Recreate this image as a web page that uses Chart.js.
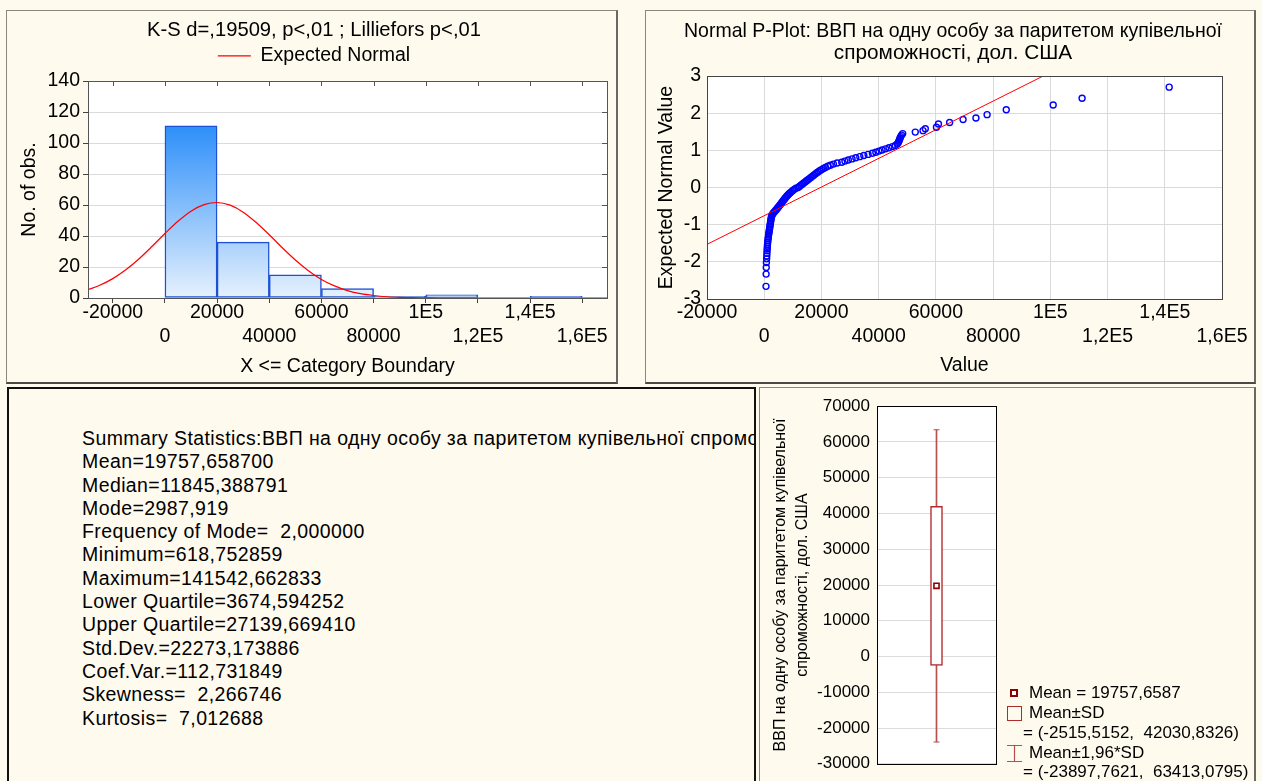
<!DOCTYPE html>
<html lang="uk">
<head>
<meta charset="utf-8">
<title>ВВП на одну особу</title>
<script src="https://cdn.jsdelivr.net/npm/chart.js@4.4.1/dist/chart.umd.min.js"></script>
<style>
  html, body { margin: 0; padding: 0; }
  body {
    position: relative; width: 1262px; height: 781px; overflow: hidden;
    background: #fffaee; color: #000;
    font-family: "Liberation Sans", Arial, sans-serif;
  }
  .panel { position: absolute; box-sizing: border-box; }
  #p1 { left: 6px; top: 10px; width: 612px; height: 374px; border: 1px solid #8a887e; border-right: 2px solid #6a6860; border-bottom: 2px solid #4a4944; }
  #p2 { left: 645px; top: 10px; width: 611px; height: 374px; border: 1px solid #8a887e; border-right: 2px solid #6a6860; border-bottom: 2px solid #4a4944; }
  #p3 { left: 7px; top: 387px; width: 749px; height: 420px; border: 2px solid #111; overflow: hidden; }
  #p4 { left: 759px; top: 387px; width: 497px; height: 420px; border: 1px solid #8a887e; border-right: 2px solid #6a6860; }
  canvas { position: absolute; }
  #c1 { left: 7px; top: 11px; }
  #c2 { left: 646px; top: 11px; }
  #c4 { left: 760px; top: 389px; }
  #stats { position: absolute; left: 73px; top: 38px; font-size: 19.5px; letter-spacing: 0.4px; line-height: 23.3px; white-space: pre; }
  .lg { position: absolute; font-size: 17px; line-height: 20px; white-space: pre; }
  .ico { position: absolute; box-sizing: border-box; }
</style>
</head>
<body>
<div class="panel" id="p1"></div>
<div class="panel" id="p2"></div>
<div class="panel" id="p3"><div id="stats"></div></div>
<div class="panel" id="p4"></div>

<canvas id="c1" width="609" height="371"></canvas>
<canvas id="c2" width="607" height="371"></canvas>
<canvas id="c4" width="493" height="392"></canvas>

<div class="ico" style="left:1010px; top:689px; width:8px; height:8px; border:2px solid #8b0000; background:#fff;"></div>
<div class="ico" style="left:1007px; top:706px; width:15px; height:15px; border:1.5px solid #b22a2a;"></div>
<svg class="ico" style="left:1007px; top:745px;" width="15" height="17">
  <path d="M0 0.5H15M7.5 0.5V16.5M0 16.5H15" stroke="#b5504f" stroke-width="1.2" fill="none"/>
</svg>
<div class="lg" id="lgMean" style="left:1029px; top:683px;"></div>
<div class="lg" id="lgSd" style="left:1029px; top:703px;"></div>
<div class="lg" id="lgSdVal" style="left:1023px; top:723px;"></div>
<div class="lg" id="lgCi" style="left:1029px; top:743px;"></div>
<div class="lg" id="lgCiVal" style="left:1023px; top:762px;"></div>

<script>
// variable name, split the way the titles wrap
const VAR_LINES = ['ВВП на одну особу за паритетом купівельної', 'спроможності, дол. США'];

// histogram: 20000-wide classes, centres and counts
const HIST_CENTERS = [-10000, 10000, 30000, 50000, 70000, 90000, 110000, 130000, 150000];
const HIST_COUNTS = [0, 111, 36, 15, 6, 1, 2, 0, 1];

// expected normal curve
const NORMAL_X = [-30000, -25000, -20000, -15000, -10000, -5000, 0, 5000, 10000, 15000,
  20000, 25000, 30000, 35000, 40000, 45000, 50000, 55000, 60000, 65000,
  70000, 75000, 80000, 85000, 90000, 95000, 100000, 105000, 110000, 115000,
  120000, 125000, 130000, 135000, 140000, 145000, 150000, 155000, 160000, 165000, 170000];
const NORMAL_Y = [5.1, 8.2, 12.5, 18.2, 25.2, 33.2, 41.6, 49.5, 56.0, 60.2,
  61.6, 59.9, 55.4, 48.7, 40.8, 32.4, 24.5, 17.6, 12.0, 7.8,
  4.8, 2.8, 1.6, 0.8, 0.4, 0.2, 0.1, 0, 0, 0,
  0, 0, 0, 0, 0, 0, 0, 0, 0, 0, 0];

// shared value axis
const VALUE_TICKS = [-20000, 0, 20000, 40000, 60000, 80000, 100000, 120000, 140000, 160000];
const VALUE_TICK_LABELS = ['-20000', '0', '20000', '40000', '60000', '80000', '1E5', '1,2E5', '1,4E5', '1,6E5'];

// normal probability plot: observed value vs expected normal value
const PP_VALUE = [620, 660, 700, 760, 850, 900, 950, 1000, 1050, 1100,
  1150, 1200, 1280, 1360, 1440, 1520, 1600, 1680, 1760, 1840,
  1920, 2000, 2080, 2160, 2240, 2320, 2400, 2500, 2620, 2750,
  2950, 3250, 3600, 3950, 4300, 4600, 4900, 5200, 5500, 5800,
  6100, 6400, 6700, 7000, 7300, 7600, 7950, 8300, 8700, 9100,
  9550, 10000, 10500, 11100, 11850, 12300, 12800, 13300, 13800, 14300,
  14800, 15300, 15800, 16300, 16800, 17300, 17800, 18300, 18800, 19400,
  20000, 20700, 21400, 22200, 23100, 24200, 25500, 27100, 28200, 29400,
  30700, 32000, 33400, 34800, 36300, 37800, 39000, 40100, 41200, 42400,
  43600, 44800, 45800, 46500, 46900, 47100, 47300, 47500, 47700, 48000,
  48400, 52800, 55500, 56300, 60200, 60900, 64800, 69500, 74000, 77900,
  84600, 101000, 111100, 141543];
const PP_EXPECTED = [-2.66, -2.33, -2.15, -2.02, -1.92, -1.84, -1.77, -1.70, -1.64, -1.58,
  -1.53, -1.48, -1.43, -1.38, -1.33, -1.28, -1.24, -1.20, -1.16, -1.12,
  -1.08, -1.04, -1.00, -0.96, -0.92, -0.88, -0.84, -0.80, -0.77, -0.74,
  -0.71, -0.68, -0.65, -0.62, -0.59, -0.56, -0.53, -0.50, -0.47, -0.44,
  -0.41, -0.38, -0.35, -0.32, -0.29, -0.26, -0.23, -0.20, -0.17, -0.14,
  -0.11, -0.08, -0.05, -0.02, 0.00, 0.03, 0.06, 0.09, 0.12, 0.15,
  0.18, 0.21, 0.24, 0.27, 0.30, 0.33, 0.36, 0.39, 0.42, 0.45,
  0.48, 0.51, 0.54, 0.57, 0.60, 0.63, 0.66, 0.68, 0.71, 0.74,
  0.77, 0.80, 0.83, 0.86, 0.89, 0.92, 0.95, 0.98, 1.01, 1.04,
  1.07, 1.10, 1.13, 1.17, 1.21, 1.25, 1.29, 1.33, 1.37, 1.41,
  1.45, 1.49, 1.53, 1.58, 1.62, 1.71, 1.75, 1.83, 1.87, 1.96,
  2.09, 2.22, 2.40, 2.70];
// reference line end points
const FIT_X = [-20000, 97500];
const FIT_Y = [-1.53, 3.0];

// mean / SD plot
const MEAN = 19757.6587;
const SD_RANGE = [-2515.5152, 42030.8326];
const CI_RANGE = [-23897.7621, 63413.0795];
const CI_FACTOR = 1.96;

// summary statistics block
const STAT_NAMES = ['Mean=', 'Median=', 'Mode=', 'Frequency of Mode=  ', 'Minimum=', 'Maximum=',
  'Lower Quartile=', 'Upper Quartile=', 'Std.Dev.=', 'Coef.Var.=', 'Skewness=  ', 'Kurtosis=  '];
const STAT_VALUES = ['19757,658700', '11845,388791', '2987,919', '2,000000', '618,752859', '141542,662833',
  '3674,594252', '27139,669410', '22273,173886', '112,731849', '2,266746', '7,012688'];

const FONT = '"Liberation Sans", Arial, sans-serif';
const TXT = 19.5;     // axis text in the two upper graphs
const TITLE = 20.2;   // their titles
Chart.defaults.font.family = FONT;
Chart.defaults.color = '#000';
Chart.defaults.animation = false;
Chart.defaults.events = [];
Chart.defaults.plugins.tooltip.enabled = false;

const comma = (v, d) => v.toFixed(d).replace('.', ',');

// white plot area, dark frame, optional inward ticks on top / right
const framePlugin = {
  id: 'frame',
  beforeDraw(chart) {
    const { ctx, chartArea: a } = chart;
    ctx.save();
    ctx.fillStyle = '#ffffff';
    ctx.fillRect(a.left, a.top, a.width, a.height);
    ctx.restore();
  },
  afterDatasetsDraw(chart, args, opts) {
    const { ctx, chartArea: a } = chart;
    ctx.save();
    ctx.strokeStyle = opts.color || '#555';
    ctx.lineWidth = 1;
    ctx.strokeRect(Math.round(a.left) + 0.5, Math.round(a.top) + 0.5,
      Math.round(a.right) - Math.round(a.left), Math.round(a.bottom) - Math.round(a.top));
    if (opts.innerTicks) {
      const xs = chart.scales.x, ys = chart.scales.y;
      ctx.beginPath();
      xs.ticks.forEach(t => {
        const px = Math.round(xs.getPixelForValue(t.value)) + 0.5;
        ctx.moveTo(px, a.top); ctx.lineTo(px, a.top + 5);
      });
      ys.ticks.forEach(t => {
        const py = Math.round(ys.getPixelForValue(t.value)) + 0.5;
        ctx.moveTo(a.right, py); ctx.lineTo(a.right - 5, py);
      });
      ctx.stroke();
    }
    ctx.restore();
  }
};

const setValueTicks = scale => { scale.ticks = VALUE_TICKS.map(v => ({ value: v })); };
const staggered = (value, index) => index % 2 ? ['', VALUE_TICK_LABELS[index]] : VALUE_TICK_LABELS[index];

// ---- histogram with expected normal ----
new Chart(document.getElementById('c1'), {
  type: 'bar',
  data: {
    datasets: [
      {
        type: 'line',
        label: 'Expected Normal',
        data: NORMAL_X.map((x, i) => ({ x, y: NORMAL_Y[i] })),
        borderColor: '#ff0000',
        borderWidth: 1.2,
        pointRadius: 0,
        cubicInterpolationMode: 'monotone',
        order: 1
      },
      {
        label: 'No. of obs.',
        data: HIST_CENTERS.map((x, i) => ({ x, y: HIST_COUNTS[i] })),
        backgroundColor(c) {
          const chart = c.chart;
          if (!chart.chartArea) return '#9cc8f8';
          const y = chart.scales.y;
          const g = chart.ctx.createLinearGradient(0, y.getPixelForValue(Math.max(...HIST_COUNTS)), 0, y.getPixelForValue(0));
          g.addColorStop(0, '#2d8ff9');
          g.addColorStop(1, '#e6f1fd');
          return g;
        },
        borderColor: '#1d52d4',
        borderWidth: 1.5,
        borderSkipped: false,
        barPercentage: 1,
        categoryPercentage: 1,
        order: 2
      }
    ]
  },
  options: {
    responsive: false,
    layout: { padding: { left: 14, right: 9, top: 0, bottom: 0 } },
    scales: {
      x: {
        type: 'linear', min: -29500, max: 169500, offset: false,
        afterBuildTicks: setValueTicks,
        afterFit: s => { s.height = 84; },
        ticks: { autoSkip: false, maxRotation: 0, padding: -2, font: { size: TXT, lineHeight: 1.23 }, callback: staggered },
        grid: { drawOnChartArea: false, drawTicks: true, tickLength: 5, tickColor: '#444', offset: false },
        border: { color: '#555' },
        title: { display: true, text: 'X <= Category Boundary', font: { size: TXT, lineHeight: 1.2 }, padding: { top: 0, bottom: 3.8 } }
      },
      xGap: {
        type: 'linear', axis: 'x', position: 'top', display: true,
        ticks: { display: false }, grid: { display: false }, border: { display: false },
        afterFit: s => { s.height = 5.3; }
      },
      y: {
        min: 0, max: 140,
        afterFit: s => { s.width = 67; },
        ticks: { stepSize: 20, padding: 3, font: { size: TXT } },
        grid: { color: '#dadada', tickLength: 5, tickColor: '#444' },
        border: { color: '#555' },
        title: { display: true, text: 'No. of obs.', font: { size: TXT, lineHeight: 1.2 }, padding: { top: -2.7, bottom: 0 } }
      }
    },
    plugins: {
      title: {
        display: true,
        text: 'K-S d=,19509, p<,01 ; Lilliefors p<,01',
        font: { size: TITLE, weight: 'normal', lineHeight: 23.4 / TITLE },
        padding: { top: 7.8, bottom: 0 }
      },
      legend: {
        display: true,
        labels: {
          filter: item => item.datasetIndex === 0,
          usePointStyle: true,
          pointStyle: 'line',
          pointStyleWidth: 33,
          padding: 4,
          font: { size: TXT }
        }
      },
      frame: { color: '#555', innerTicks: true }
    }
  },
  plugins: [framePlugin]
});

// ---- normal probability plot ----
new Chart(document.getElementById('c2'), {
  type: 'scatter',
  data: {
    datasets: [
      {
        type: 'line',
        data: FIT_X.map((x, i) => ({ x, y: FIT_Y[i] })),
        borderColor: '#ff0000',
        borderWidth: 1,
        pointRadius: 0,
        order: 1
      },
      {
        data: PP_VALUE.map((x, i) => ({ x, y: PP_EXPECTED[i] })),
        pointStyle: 'circle',
        pointRadius: 3,
        borderColor: '#0000ff',
        backgroundColor: 'rgba(0,0,0,0)',
        borderWidth: 1.4,
        order: 2
      }
    ]
  },
  options: {
    responsive: false,
    layout: { padding: { left: 38, right: 31, top: 0, bottom: 0 } },
    scales: {
      x: {
        type: 'linear', min: -20000, max: 160000,
        afterBuildTicks: setValueTicks,
        afterFit: s => { s.height = 83; },
        ticks: { autoSkip: false, maxRotation: 0, padding: 2, font: { size: TXT, lineHeight: 1.23 }, callback: staggered },
        grid: { color: '#dadada', drawTicks: false },
        border: { color: '#444' },
        title: { display: true, text: 'Value', font: { size: TXT, lineHeight: 1.2 }, padding: { top: 0, bottom: 4.3 } }
      },
      y: {
        min: -3, max: 3,
        afterFit: s => { s.width = 23; },
        ticks: { stepSize: 1, padding: 6, font: { size: TXT } },
        grid: { color: '#dadada', drawTicks: false },
        border: { color: '#444' },
        title: { display: true, text: 'Expected Normal Value', font: { size: TXT, lineHeight: 1.2 }, padding: { top: -28.7, bottom: 0 } }
      }
    },
    plugins: {
      legend: { display: false },
      title: {
        display: true,
        text: ['Normal P-Plot: ' + VAR_LINES[0], VAR_LINES[1]],
        font: { size: 20.8, weight: 'normal', lineHeight: 22 / 20.8 },
        padding: { top: 9, bottom: 12 }
      },
      frame: { color: '#444' }
    }
  },
  plugins: [framePlugin]
});

// ---- mean, mean±SD, mean±1.96*SD ----
const boxRed = '#b22a2a';
const whiskerRed = '#b5504f';
new Chart(document.getElementById('c4'), {
  type: 'bar',
  data: {
    labels: [''],
    datasets: [
      { type: 'line', data: [MEAN], showLine: false, pointStyle: 'rect', pointRadius: 3.6,
        borderColor: '#8b0000', backgroundColor: '#ffffff', borderWidth: 1.6, order: 0 },
      { type: 'line', data: [CI_RANGE[1]], showLine: false, pointStyle: 'line', pointRadius: 3,
        borderColor: whiskerRed, borderWidth: 1.2, order: 1 },
      { type: 'line', data: [CI_RANGE[0]], showLine: false, pointStyle: 'line', pointRadius: 3,
        borderColor: whiskerRed, borderWidth: 1.2, order: 1 },
      { data: [SD_RANGE], backgroundColor: '#ffffff', borderColor: boxRed, borderWidth: 1.5,
        borderSkipped: false, barThickness: 12, grouped: false, order: 2 },
      { data: [CI_RANGE], backgroundColor: whiskerRed, borderWidth: 0,
        barThickness: 1, grouped: false, order: 3 }
    ]
  },
  options: {
    responsive: false,
    layout: { padding: { left: 0, right: 257, top: 13, bottom: 6 } },
    scales: {
      x: { display: false },
      y: {
        min: -30000, max: 70000,
        afterFit: s => { s.width = 117; },
        ticks: { stepSize: 10000, padding: 7, font: { size: 17 }, callback: v => String(v) },
        grid: { color: '#dcdcdc', drawTicks: false },
        border: { color: '#000' },
        title: { display: true, text: VAR_LINES, font: { size: 16, lineHeight: 22 / 16 }, padding: { top: 10, bottom: 0 } }
      }
    },
    plugins: {
      legend: { display: false },
      frame: { color: '#000' }
    }
  },
  plugins: [framePlugin]
});

document.getElementById('lgMean').textContent = 'Mean = ' + comma(MEAN, 4);
document.getElementById('lgSd').textContent = 'Mean±SD';
document.getElementById('lgSdVal').textContent = '= (' + comma(SD_RANGE[0], 4) + ',  ' + comma(SD_RANGE[1], 4) + ')';
document.getElementById('lgCi').textContent = 'Mean±' + comma(CI_FACTOR, 2) + '*SD';
document.getElementById('lgCiVal').textContent = '= (' + comma(CI_RANGE[0], 4) + ',  ' + comma(CI_RANGE[1], 4) + ')';

// summary statistics text
const statLines = ['Summary Statistics:' + VAR_LINES.join(' ')]
  .concat(STAT_NAMES.map((n, i) => n + STAT_VALUES[i]));
document.getElementById('stats').textContent = statLines.join('\n');
</script>
</body>
</html>
